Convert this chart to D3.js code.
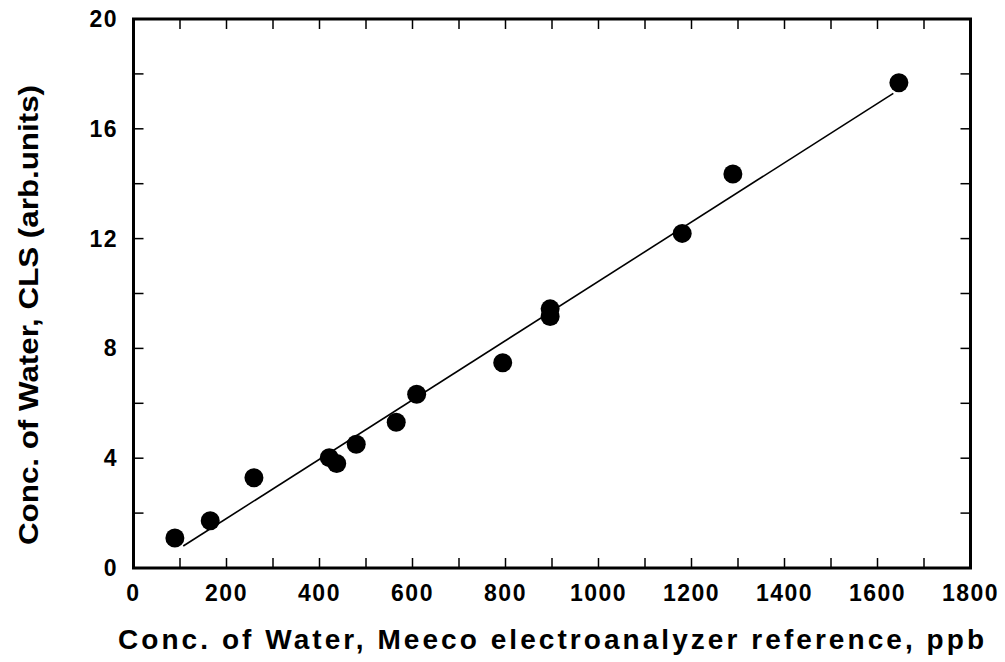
<!DOCTYPE html>
<html>
<head>
<meta charset="utf-8">
<script src="https://cdn.jsdelivr.net/npm/d3@7"></script>
<style>
  body { margin: 0; background: #fff; }
  svg { display: block; font-family: "Liberation Sans", Arial, sans-serif; }
</style>
</head>
<body>
<div id="chart"></div>
<script>
// measured points
var meecoPpb = [89, 165, 259, 421, 437, 479, 565, 609, 794, 896, 896, 1180, 1289, 1646];
var clsUnits = [1.09, 1.72, 3.29, 4.02, 3.81, 4.51, 5.31, 6.33, 7.48, 9.44, 9.16, 12.19, 14.35, 17.68];

// fitted line end points
var fitX = [107, 1634];
var fitY = [0.8, 17.29];

var xTicks = [0, 200, 400, 600, 800, 1000, 1200, 1400, 1600, 1800];
var yTicks = [0, 4, 8, 12, 16, 20];

var width = 1005, height = 662;
var margin = { left: 133.5, right: 34.5, top: 19, bottom: 94 };

var svg = d3.select("#chart").append("svg")
    .attr("width", width)
    .attr("height", height);

var x = d3.scaleLinear().domain([0, 1800]).range([margin.left, width - margin.right]);
var y = d3.scaleLinear().domain([0, 20]).range([height - margin.bottom, margin.top]);

var minorX = d3.range(0, 1801, 100);
var minorY = d3.range(0, 21, 2);

// ticks on all four sides, pointing inward
var tickLen = 10;
var g = svg.append("g").attr("stroke", "#000").attr("stroke-width", 1.5);
g.selectAll(".tb").data(minorX.slice(1, -1)).enter().append("line")
    .attr("x1", d => x(d)).attr("x2", d => x(d))
    .attr("y1", y(0)).attr("y2", y(0) - tickLen);
g.selectAll(".tt").data(minorX.slice(1, -1)).enter().append("line")
    .attr("x1", d => x(d)).attr("x2", d => x(d))
    .attr("y1", y(20)).attr("y2", y(20) + tickLen);
g.selectAll(".tl").data(minorY.slice(1, -1)).enter().append("line")
    .attr("x1", x(0)).attr("x2", x(0) + tickLen)
    .attr("y1", d => y(d)).attr("y2", d => y(d));
g.selectAll(".tr").data(minorY.slice(1, -1)).enter().append("line")
    .attr("x1", x(1800)).attr("x2", x(1800) - tickLen)
    .attr("y1", d => y(d)).attr("y2", d => y(d));

// frame
svg.append("rect")
    .attr("x", x(0)).attr("y", y(20))
    .attr("width", x(1800) - x(0)).attr("height", y(0) - y(20))
    .attr("fill", "none").attr("stroke", "#000").attr("stroke-width", 3);

// tick labels
svg.selectAll(".xl").data(xTicks).enter().append("text")
    .attr("x", d => x(d)).attr("y", 601)
    .attr("text-anchor", "middle")
    .attr("font-size", 23).attr("font-weight", "bold")
    .attr("letter-spacing", 1.5)
    .text(d => d);

svg.selectAll(".yl").data(yTicks).enter().append("text")
    .attr("x", 118).attr("y", d => y(d) + 8)
    .attr("text-anchor", "end")
    .attr("font-size", 23).attr("font-weight", "bold")
    .attr("letter-spacing", 1.5)
    .text(d => d);

// axis titles
svg.append("text")
    .attr("x", 551).attr("y", 649)
    .attr("text-anchor", "middle")
    .attr("font-size", 28).attr("font-weight", "bold")
    .attr("textLength", 866).attr("lengthAdjust", "spacing")
    .text("Conc. of Water, Meeco electroanalyzer reference, ppb");

svg.append("text")
    .attr("transform", "translate(38,315) rotate(-90)")
    .attr("text-anchor", "middle")
    .attr("font-size", 28).attr("font-weight", "bold")
    .attr("textLength", 460).attr("lengthAdjust", "spacingAndGlyphs")
    .text("Conc. of Water, CLS (arb.units)");

// fit line
svg.append("line")
    .attr("x1", x(fitX[0])).attr("y1", y(fitY[0]))
    .attr("x2", x(fitX[1])).attr("y2", y(fitY[1]))
    .attr("stroke", "#000").attr("stroke-width", 1.6);

// points
svg.selectAll(".dot").data(meecoPpb).enter().append("circle")
    .attr("cx", d => x(d))
    .attr("cy", (d, i) => y(clsUnits[i]))
    .attr("r", 9.5)
    .attr("fill", "#000");
</script>
</body>
</html>
